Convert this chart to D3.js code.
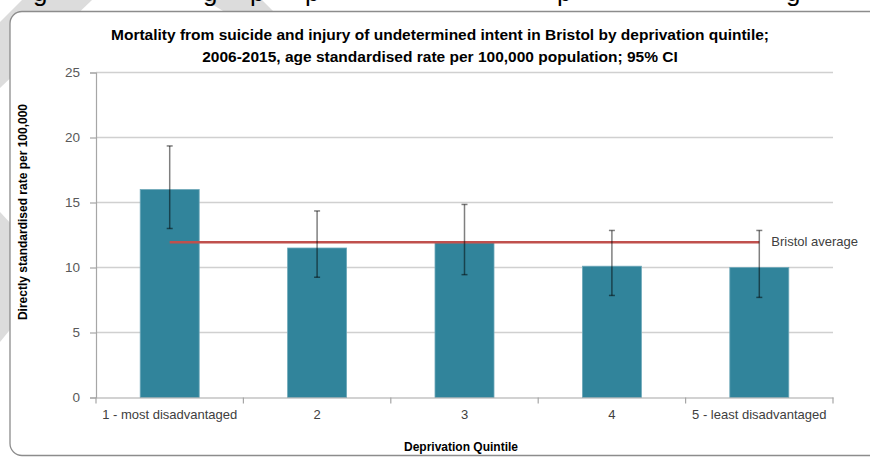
<!DOCTYPE html>
<html>
<head>
<meta charset="utf-8">
<script src="https://cdn.jsdelivr.net/npm/d3@7"></script>
<style>
  html, body { margin: 0; padding: 0; background: #fff; }
  svg { display: block; }
</style>
</head>
<body>
<svg id="chart" width="870" height="459"></svg>
<script>
// Donnees
const categories = ['1 - most disadvantaged', '2', '3', '4', '5 - least disadvantaged']
const rates = [16.0, 11.5, 11.9, 10.1, 10.0]
const lowerCI = [13.0, 9.25, 9.45, 7.85, 7.7]
const upperCI = [19.35, 14.35, 14.85, 12.85, 12.85]
const bristolAverage = 11.95
const yTicks = [0, 5, 10, 15, 20, 25]

const POLICE = "'Liberation Sans Narrow', 'Liberation Sans', Arial, sans-serif"
const COULEUR_BARRE = '#31849B'
const COULEUR_MOYENNE = '#C0504D'
const COULEUR_FILIGRANE = '#dcdcdc'

const svg = d3.select('#chart')
const marge = { left: 96, right: 833, top: 72.5, bottom: 397.5 }

//Filigrane gris en arriere-plan (visible seulement hors du cadre)
svg.append('polygon').attr('points', '22,0 92,0 0,88 0,22').attr('fill', COULEUR_FILIGRANE)
svg.append('polygon').attr('points', '205,0 262,0 276,14 228,14').attr('fill', COULEUR_FILIGRANE)
svg.append('polygon').attr('points', '0,212 13,226 13,326 0,342').attr('fill', COULEUR_FILIGRANE)

//Texte coupe en haut de l'image (legende au-dessus du graphique)
const morceaux = [['g', 33], ['g', 203], ['p', 250], ['p', 305], ['p', 557], ['g', 786]]
morceaux.forEach(m => {
    svg.append('text').text(m[0]).attr('x', m[1]).attr('y', 1)
        .attr('font-family', "'Liberation Sans', Arial, sans-serif").attr('font-size', 26).attr('fill', '#000')
})

//Cadre du graphique
svg.append('rect').attr('x', 10).attr('y', 11.5).attr('width', 880).attr('height', 444)
    .attr('rx', 12).attr('ry', 12).attr('fill', 'white')
    .attr('stroke', '#8c8c8c').attr('stroke-width', 1.3)

//Echelle
const xPos = d3.scaleBand().domain(categories).range([marge.left, marge.right])
const y = d3.scaleLinear().domain([0, 25]).range([marge.bottom, marge.top])
const centre = d => xPos(d) + xPos.bandwidth() / 2

//Grille horizontale
svg.append('g').selectAll('line').data(yTicks.filter(t => t > 0)).join('line')
    .attr('x1', marge.left).attr('x2', marge.right)
    .attr('y1', d => y(d)).attr('y2', d => y(d))
    .attr('stroke', '#d0d0d0').attr('stroke-width', 1.3)

//Axe Y
const axeY = svg.append('g').attr('transform', 'translate(' + marge.left + ',0)')
    .call(d3.axisLeft(y).tickValues(yTicks).tickSize(6).tickPadding(10))
axeY.select('.domain').attr('stroke', '#a6a6a6').attr('stroke-width', 1.2)
axeY.selectAll('.tick line').attr('stroke', '#a6a6a6').attr('stroke-width', 1.2)
axeY.selectAll('.tick text').attr('font-family', POLICE).attr('font-size', 13.5).attr('fill', '#595959')

//Barres
svg.append('g').selectAll('rect').data(categories).join('rect')
    .attr('x', d => centre(d) - 29.5)
    .attr('width', 59)
    .attr('y', (d, i) => y(rates[i]))
    .attr('height', (d, i) => y(0) - y(rates[i]))
    .attr('fill', COULEUR_BARRE).attr('stroke', '#6fa9b9').attr('stroke-width', 0.8)

//Axe X
const axeX = svg.append('g').attr('transform', 'translate(0,' + marge.bottom + ')')
    .call(d3.axisBottom(xPos).tickSize(0).tickPadding(12))
axeX.select('.domain').attr('stroke', '#a6a6a6').attr('stroke-width', 1.2)
axeX.selectAll('.tick text').attr('font-family', POLICE).attr('font-size', 13).attr('fill', '#404040')
//Petits traits entre les categories
svg.append('g').selectAll('line').data(d3.range(categories.length + 1)).join('line')
    .attr('x1', i => marge.left + i * xPos.step()).attr('x2', i => marge.left + i * xPos.step())
    .attr('y1', marge.bottom).attr('y2', marge.bottom + 6)
    .attr('stroke', '#a6a6a6').attr('stroke-width', 1.2)

//Ligne de la moyenne de Bristol
svg.append('line')
    .attr('x1', centre(categories[0])).attr('x2', centre(categories[categories.length - 1]))
    .attr('y1', y(bristolAverage)).attr('y2', y(bristolAverage))
    .attr('stroke', COULEUR_MOYENNE).attr('stroke-width', 2.5)
svg.append('text').text('Bristol average')
    .attr('x', centre(categories[categories.length - 1]) + 12).attr('y', y(bristolAverage) + 4)
    .attr('font-family', POLICE).attr('font-size', 13).attr('fill', '#404040')

//Barres d'erreur (IC 95%)
const erreurs = svg.append('g').attr('stroke', '#000').attr('stroke-opacity', 0.5).attr('stroke-width', 1.5)
categories.forEach((c, i) => {
    const cx = centre(c)
    erreurs.append('line').attr('x1', cx).attr('x2', cx).attr('y1', y(upperCI[i])).attr('y2', y(lowerCI[i]))
    erreurs.append('line').attr('x1', cx - 3).attr('x2', cx + 3).attr('y1', y(upperCI[i])).attr('y2', y(upperCI[i]))
    erreurs.append('line').attr('x1', cx - 3).attr('x2', cx + 3).attr('y1', y(lowerCI[i])).attr('y2', y(lowerCI[i]))
})

//Titres
svg.append('text').attr('x', 440).attr('y', 40).attr('text-anchor', 'middle')
    .attr('font-family', POLICE).attr('font-weight', 'bold').attr('font-size', 15.5).attr('fill', '#000')
    .text('Mortality from suicide and injury of undetermined intent in Bristol by deprivation quintile;')
svg.append('text').attr('x', 440).attr('y', 62).attr('text-anchor', 'middle')
    .attr('font-family', POLICE).attr('font-weight', 'bold').attr('font-size', 15.5).attr('fill', '#000')
    .text('2006-2015, age standardised rate per 100,000 population;  95% CI')

svg.append('text').attr('transform', 'translate(27,212) rotate(-90)').attr('text-anchor', 'middle')
    .attr('font-family', POLICE).attr('font-weight', 'bold').attr('font-size', 12).attr('fill', '#000')
    .text('Directly standardised rate per 100,000')

svg.append('text').attr('x', 461).attr('y', 451).attr('text-anchor', 'middle')
    .attr('font-family', POLICE).attr('font-weight', 'bold').attr('font-size', 12).attr('fill', '#000')
    .text('Deprivation Quintile')
</script>
</body>
</html>
